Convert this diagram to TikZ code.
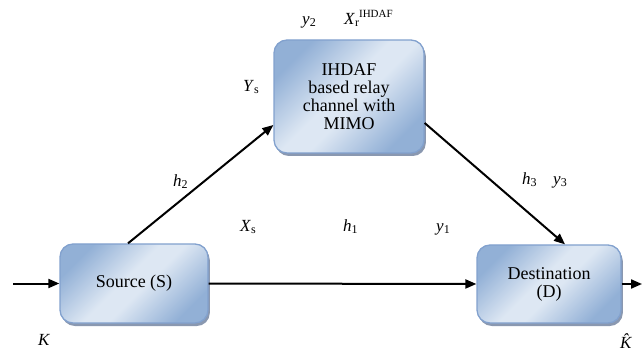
\documentclass[tikz,border=0pt]{standalone}
\usepackage{fontspec}
\setmainfont{Liberation Serif}
\usetikzlibrary{arrows.meta,shadows,calc}
\definecolor{bdark}{RGB}{146,176,214}
\definecolor{blight}{RGB}{221,231,243}
\definecolor{bborder}{RGB}{130,161,206}
\definecolor{bshadow}{RGB}{138,152,176}
\pgfdeclareverticalshading{boxshade}{100bp}{color(0bp)=(bdark); color(25bp)=(bdark); color(46bp)=(blight); color(54bp)=(blight); color(75bp)=(bdark); color(100bp)=(bdark)}
\newcommand{\lbl}[2]{\textit{#1}\raisebox{-0.15ex}{\fontsize{12}{12}\selectfont #2}}
\tikzset{
  blockbox/.style={draw=bborder, line width=1.3pt, rounded corners=13pt, shading=boxshade, shading angle=45,
    drop shadow={shadow xshift=1.8pt, shadow yshift=-3pt, fill=bshadow, opacity=1},
    align=center, font=\fontsize{18}{18}\selectfont, inner sep=0pt},
  link/.style={line width=2pt, -{Triangle[length=11pt,width=9pt]}},
  lab/.style={anchor=base west, inner sep=0pt, font=\fontsize{17}{17}\selectfont}
}
\begin{document}
\begin{tikzpicture}[x=1pt,y=-1pt]
\useasboundingbox (0,0) rectangle (644,352);
\node[blockbox, minimum width=148pt, minimum height=79pt] (src) at (134,283.5) {Source (S)};
\node[blockbox, minimum width=144pt, minimum height=78pt] (dst) at (549,284) {Destination\\(D)};
\node[blockbox, minimum width=150pt, minimum height=113pt] (relay) at (349,96.5) {IHDAF\\based relay\\channel with\\MIMO};
\coordinate (in) at (13,283.5);
\coordinate (out) at (642,284);
\draw[link] (in) -- (src.west);
\draw[link] (src.east) -- (dst.west);
\draw[link] (dst.east) -- (out);
\draw[link] ($(src.north)+(-6,0)$) -- ($(relay.west)+(0,28.5)$);
\draw[link] ($(relay.east)+(0,26.5)$) -- ($(dst.north)+(16,0)$);
\node[lab] (ly2) at (302,25) {\lbl{y}{2}};
\node[lab] (lxr) at (344,25) {\textit{X}\raisebox{-0.15ex}{\fontsize{12}{12}\selectfont r}\raisebox{0.9ex}{\fontsize{11}{11}\selectfont IHDAF}};
\node[lab] (lys) at (243,92) {\lbl{Y}{s}};
\node[lab] (lh2) at (173,187) {\lbl{h}{2}};
\node[lab] (lxs) at (240,232) {\lbl{X}{s}};
\node[lab] (lh1) at (343,232) {\lbl{h}{1}};
\node[lab] (ly1) at (436,232) {\lbl{y}{1}};
\node[lab] (lh3) at (522,185) {\lbl{h}{3}};
\node[lab] (ly3) at (553,185) {\lbl{y}{3}};
\node[lab] (lk) at (38,345) {\textit{K}};
\node[lab] (lkh) at (620,348) {\textit{\^{K}}};
\end{tikzpicture}
\end{document}
